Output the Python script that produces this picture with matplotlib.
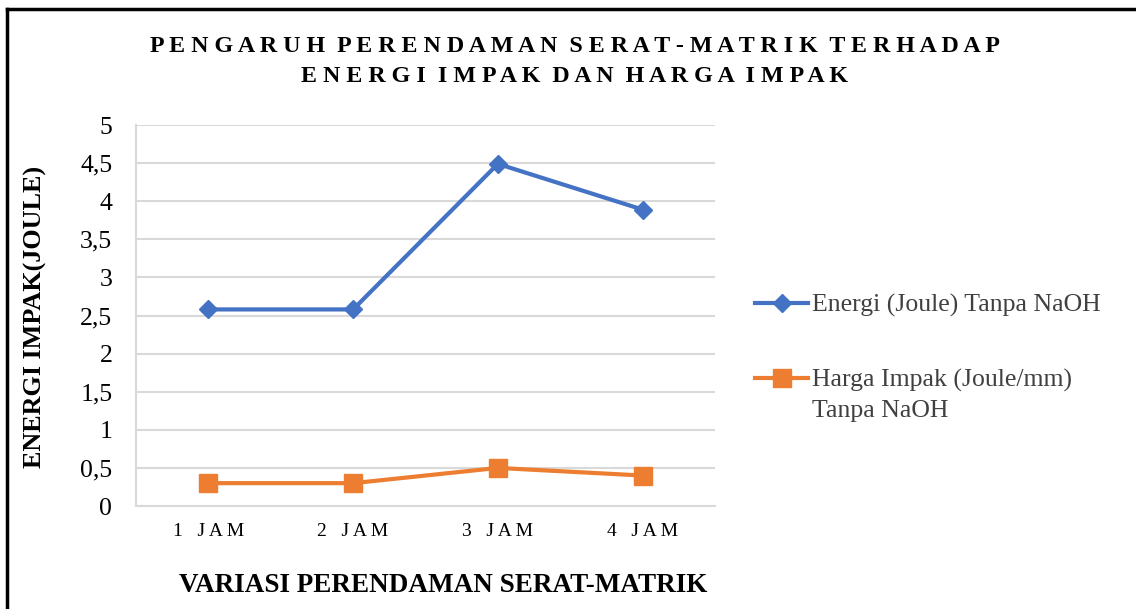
import matplotlib.pyplot as plt
from matplotlib.lines import Line2D

plt.rcParams['font.family'] = ['Liberation Serif', 'DejaVu Serif']

kategori = ['1 JAM', '2 JAM', '3 JAM', '4 JAM']
energi = [2.58, 2.58, 4.49, 3.89]
harga_impak = [0.30, 0.30, 0.50, 0.40]
y_ticks = [0, 0.5, 1, 1.5, 2, 2.5, 3, 3.5, 4, 4.5, 5]
y_tick_labels = ['0', '0,5', '1', '1,5', '2', '2,5', '3', '3,5', '4', '4,5', '5']
label_energi = 'Energi (Joule) Tanpa NaOH'
label_harga = ['Harga Impak (Joule/mm)', 'Tanpa NaOH']


def renggang(teks, jarak=' ', antar_kata='   '):
    # spasi antar huruf seperti gaya judul Excel
    return antar_kata.join(jarak.join(kata) for kata in teks.split(' '))


fig = plt.figure(figsize=(11.36, 6.09), dpi=100)
ax = fig.add_axes([0.1197, 0.1691, 0.5097, 0.6256])

x = list(range(len(kategori)))
ax.plot(x, energi, color='#4472C4', marker='D', markersize=9.5, linewidth=3,
        label=label_energi)
ax.plot(x, harga_impak, color='#ED7D31', marker='s', markersize=12.5, linewidth=3,
        label=label_harga[0])

ax.set_xlim(-0.5, len(kategori) - 0.5)
ax.set_ylim(0, 5)
ax.set_yticks(y_ticks)
ax.set_yticklabels(y_tick_labels, fontsize=18.5)
ax.set_xticks(x)
ax.set_xticklabels([renggang(k, ' ', '   ') for k in kategori], fontsize=14)
ax.tick_params(length=0)
ax.tick_params(axis='y', pad=17)
ax.tick_params(axis='x', pad=12)

ax.grid(axis='y', color='#D9D9D9', linewidth=1.5)
ax.set_axisbelow(True)
for side in ['top', 'right']:
    ax.spines[side].set_visible(False)
for side in ['left', 'bottom']:
    ax.spines[side].set_color('#D9D9D9')
    ax.spines[side].set_linewidth(1.5)

fig.text(0.031, 0.479, 'ENERGI IMPAK(JOULE)', fontsize=18.8, fontweight='bold',
         rotation=90, ha='center', va='center')
fig.text(0.39, 0.038, 'VARIASI PERENDAMAN SERAT-MATRIK', fontsize=19.5,
         fontweight='bold', ha='center', va='center')

fig.text(0.506, 0.924, renggang('PENGARUH PERENDAMAN SERAT-MATRIK TERHADAP', ' ', '  '),
         fontsize=17.3, fontweight='bold', ha='center', va='center')
fig.text(0.506, 0.874, renggang('ENERGI IMPAK DAN HARGA IMPAK', ' ', '  '),
         fontsize=17.3, fontweight='bold', ha='center', va='center')

# legenda: baris pertama sejajar penanda, baris kedua ditulis di bawahnya
leg = ax.legend(loc='center left', bbox_to_anchor=(0.665, 0.437), bbox_transform=fig.transFigure,
                frameon=False, fontsize=18.5, handlelength=2.05, handletextpad=0.15,
                labelspacing=2.0, borderpad=0, borderaxespad=0, labelcolor='#404040')
fig.canvas.draw()
bb = leg.get_texts()[1].get_window_extent().transformed(fig.transFigure.inverted())
fig.text(bb.x0, bb.y0 - 0.049, label_harga[1], fontsize=18.5, color='#404040',
         ha='left', va='bottom')

# garis tepi seperti bingkai tangkapan layar
fig.add_artist(Line2D([0.006, 1.0], [0.985, 0.985], color='black', linewidth=2.5))
fig.add_artist(Line2D([0.006, 0.006], [0.0, 0.985], color='black', linewidth=2.5))

fig.savefig('out.png', dpi=100)
